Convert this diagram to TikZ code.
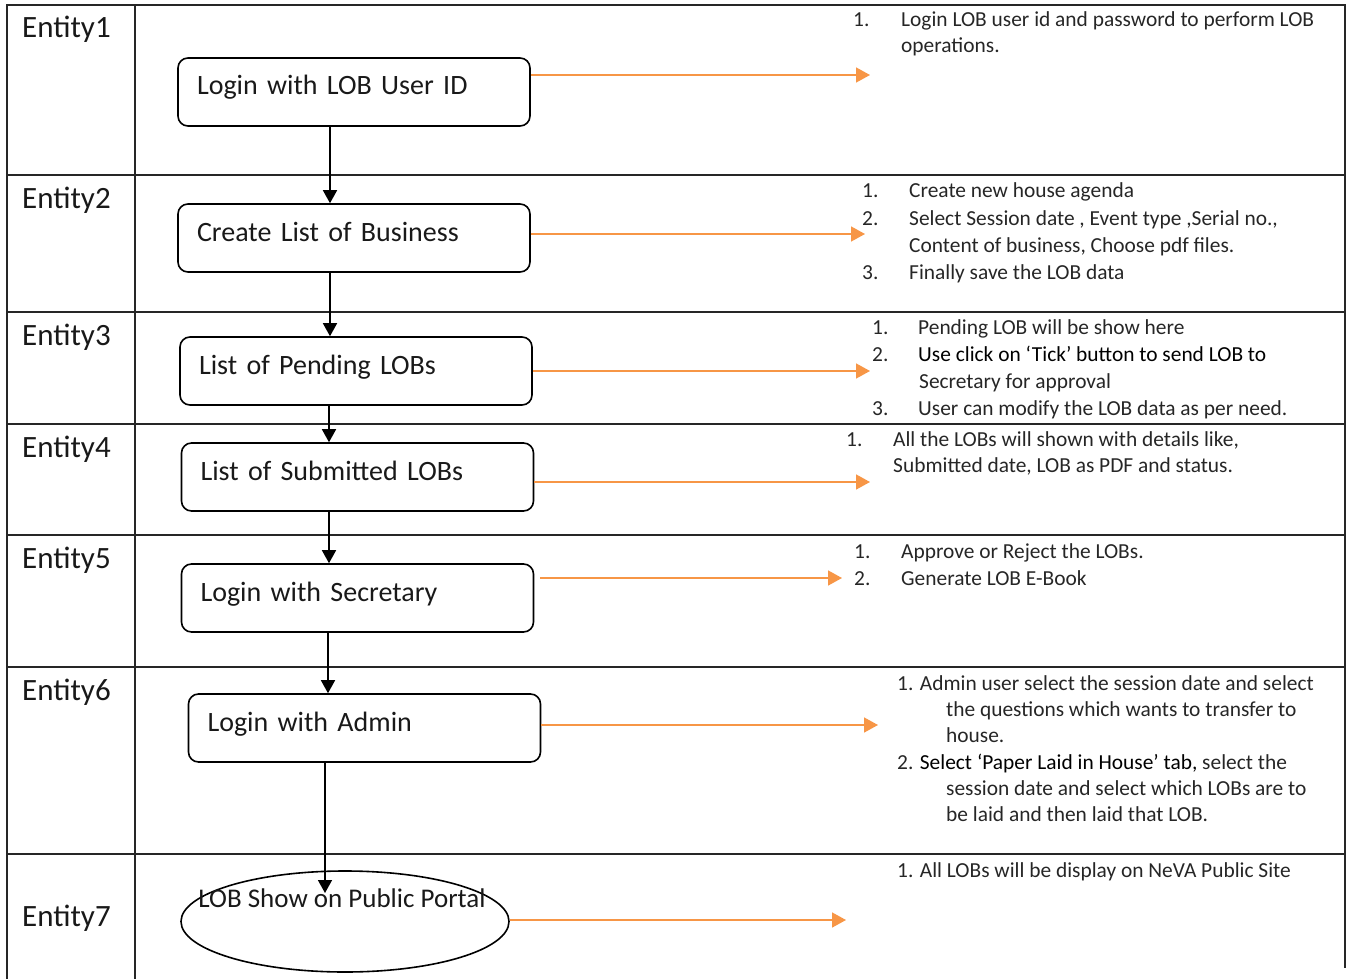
\documentclass[tikz,border=0pt]{standalone}
\usepackage{fontspec}
\setmainfont{Carlito}
\usetikzlibrary{arrows.meta,shapes.geometric}
\definecolor{lobor}{HTML}{F79646}
\begin{document}
\begin{tikzpicture}[x=1pt,y=-1pt,
  grid/.style={line width=1.3pt,black!85},
  box/.style={draw,line width=1.6pt,rounded corners=10pt,minimum width=352pt,minimum height=68pt,
    inner xsep=19pt,inner ysep=0pt,text width=314pt,align=left,font=\fontsize{28}{32}\selectfont,
    text height=20pt,text depth=14pt,text=black!90},
  ent/.style={anchor=base west,font=\fontsize{31}{36}\selectfont,text=black!90,inner sep=0pt},
  txt/.style={anchor=base west,font=\fontsize{21.4}{25}\selectfont,text=black!85,inner sep=0pt},
  bt/.style={text=black},
  flow/.style={line width=1.6pt,-{Triangle[length=13pt,width=14pt]}},
  oflow/.style={lobor,line width=1.6pt,-{Triangle[length=14pt,width=15pt]}}]
\useasboundingbox (0,0) rectangle (1350,979);
% table
\draw[grid] (7,979) -- (7,5) -- (1345,5) -- (1345,968);
\draw[grid] (135,5) -- (135,979);
\foreach \yy in {175,312,424,535,667,854} \draw[grid] (7,\yy) -- (1345,\yy);
% entity labels
\node[ent] (E1) at (22,38) {Entity1};
\node[ent] (E2) at (22,208) {Entity2};
\node[ent] (E3) at (22,345) {Entity3};
\node[ent] (E4) at (22,457) {Entity4};
\node[ent] (E5) at (22,568) {Entity5};
\node[ent] (E6) at (22,700) {Entity6};
\node[ent] (E7) at (22,926) {Entity7};
% boxes
\node[box] (n1) at (354,92) {Login with LOB User ID};
\node[box] (n2) at (354,238) {Create List of Business};
\node[box] (n3) at (356,371) {List of Pending LOBs};
\node[box] (n4) at (357.5,477) {List of Submitted LOBs};
\node[box] (n5) at (357.5,598) {Login with Secretary};
\node[box] (n6) at (364.5,728) {Login with Admin};
\node[draw,ellipse,line width=1.6pt,minimum width=328pt,minimum height=101pt,inner sep=0pt] (n7) at (345,921.5) {};
\node[inner sep=0pt,font=\fontsize{27}{32}\selectfont,text=black!90] (n7t) at (342,898) {LOB Show on Public Portal};
% flow arrows
\coordinate (a7) at (325,893);
\draw[flow] ([xshift=-24pt]n1.south) -- ([xshift=-24pt]n1.south |- n2.north);
\draw[flow] ([xshift=-24pt]n2.south) -- ([xshift=-24pt]n2.south |- n3.north);
\draw[flow] ([xshift=-27pt]n3.south) -- ([xshift=-27pt]n3.south |- n4.north);
\draw[flow] ([xshift=-28.5pt]n4.south) -- ([xshift=-28.5pt]n4.south |- n5.north);
\draw[flow] ([xshift=-29.5pt]n5.south) -- ([xshift=-29.5pt]n5.south |- n6.north);
\draw[flow] (a7 |- n6.south) -- (a7);
% orange arrows
\coordinate (e1) at (870,75);
\coordinate (e2) at (865,234);
\coordinate (e3) at (870,371);
\coordinate (e4) at (870,482);
\coordinate (e5) at (842,578);
\coordinate (e6) at (878,725);
\coordinate (e7) at (846,920);
\draw[oflow] (n1.east |- e1) -- (e1);
\draw[oflow] (n2.east |- e2) -- (e2);
\draw[oflow] (n3.east |- e3) -- (e3);
\draw[oflow] (n4.east |- e4) -- (e4);
\draw[oflow] ([xshift=6pt]n5.east |- e5) -- (e5);
\draw[oflow] (n6.east |- e6) -- (e6);
\draw[oflow] (n7.east |- e7) -- (e7);
% row 1 text
\node[txt] (r1n1) at (853,27) {1.};
\node[txt] (r1a) at (901,27) {Login LOB user id and password to perform LOB};
\node[txt] (r1b) at (901,53) {operations.};
% row 2
\node[txt] (r2n1) at (862,197) {1.};
\node[txt] (r2a) at (909,197) {Create new house agenda};
\node[txt] (r2n2) at (862,225) {2.};
\node[txt] (r2b) at (909,225) {Select Session date , Event type ,Serial no.,};
\node[txt] (r2c) at (909,252) {Content of business, Choose pdf files.};
\node[txt] (r2n3) at (862,279) {3.};
\node[txt] (r2d) at (909,279) {Finally save the LOB data};
% row 3
\node[txt] (r3n1) at (872,334) {1.};
\node[txt] (r3a) at (918,334) {Pending LOB will be show here};
\node[txt] (r3n2) at (872,361) {2.};
\node[txt,bt] (r3b) at (918,361) {Use click on ‘Tick’ button to send LOB to};
\node[txt] (r3c) at (919,388) {Secretary for approval};
\node[txt] (r3n3) at (872,415) {3.};
\node[txt] (r3d) at (918,415) {User can modify the LOB data as per need.};
% row 4
\node[txt] (r4n1) at (846,446) {1.};
\node[txt] (r4a) at (893,446) {All the LOBs will shown with details like,};
\node[txt] (r4b) at (893,472) {Submitted date, LOB as PDF and status.};
% row 5
\node[txt] (r5n1) at (854,558) {1.};
\node[txt] (r5a) at (901,558) {Approve or Reject the LOBs.};
\node[txt] (r5n2) at (854,585) {2.};
\node[txt] (r5b) at (901,585) {Generate LOB E-Book};
% row 6
\node[txt] (r6a) at (897,690) {1. Admin user select the session date and select};
\node[txt] (r6b) at (946,716) {the questions which wants to transfer to};
\node[txt] (r6c) at (946,742) {house.};
\node[txt] (r6d) at (897,769) {2. {\color{black}Select ‘Paper Laid in House’ tab,} select the};
\node[txt] (r6e) at (946,795) {session date and select which LOBs are to};
\node[txt] (r6f) at (946,821) {be laid and then laid that LOB.};
% row 7
\node[txt] (r7a) at (897,877) {1. All LOBs will be display on NeVA Public Site};
\end{tikzpicture}
\end{document}
